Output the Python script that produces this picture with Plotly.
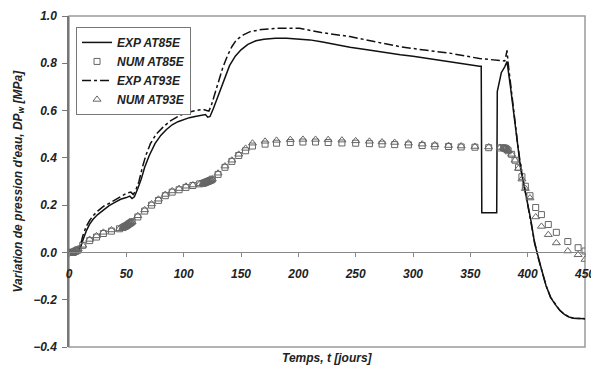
import plotly.graph_objects as go

# --- data ----------------------------------------------------------------
exp85_days = [0, 5, 8, 10, 12, 15, 18, 21, 25, 30, 35, 40, 45, 50, 53, 55, 57, 60, 63, 66,
              70, 75, 80, 85, 90, 95, 100, 105, 110, 115, 119, 121, 123, 126, 129, 132, 136,
              140, 145, 150, 156, 163, 170, 180, 190, 200, 210, 220, 233, 245, 260, 275, 289,
              300, 315, 332, 345, 358, 359.5, 360, 373, 373.5, 375, 377, 380, 382, 385, 388,
              391, 394, 397, 400, 403, 406, 409, 412, 416, 420, 424, 428, 432, 436, 440, 445, 450]
exp85_vals = [0, 0, 0.005, 0.02, 0.05, 0.09, 0.12, 0.14, 0.16, 0.18, 0.198, 0.212, 0.225, 0.232,
              0.238, 0.228, 0.235, 0.27, 0.31, 0.36, 0.41, 0.46, 0.495, 0.52, 0.54, 0.553, 0.563,
              0.57, 0.575, 0.58, 0.583, 0.572, 0.575, 0.61, 0.65, 0.69, 0.745, 0.79, 0.83, 0.857,
              0.88, 0.895, 0.902, 0.906, 0.906, 0.904, 0.899, 0.891, 0.878, 0.868, 0.857, 0.845,
              0.836, 0.83, 0.818, 0.807, 0.797, 0.787, 0.787, 0.168, 0.168, 0.68, 0.72, 0.76,
              0.785, 0.807, 0.70, 0.58, 0.46, 0.35, 0.28, 0.21, 0.13, 0.04, -0.02, -0.07, -0.14,
              -0.19, -0.22, -0.245, -0.262, -0.273, -0.278, -0.28, -0.28]

exp93_days = [0, 5, 8, 10, 12, 15, 18, 21, 25, 30, 36, 42, 50, 54, 56, 58, 61, 64, 67, 71, 76,
              82, 88, 95, 102, 110, 117, 120, 122, 124, 127, 130, 134, 138, 142, 146, 152, 158,
              168, 181, 201, 220, 245, 265, 289, 310, 332, 358, 375, 380, 381, 382, 383, 385,
              388, 391, 394, 397, 400, 403, 406, 409, 412, 416, 420, 424, 428, 432, 436, 440,
              445, 450]
exp93_vals = [0, 0, 0.01, 0.03, 0.07, 0.11, 0.135, 0.155, 0.175, 0.195, 0.21, 0.228, 0.25, 0.255,
              0.245, 0.26, 0.30, 0.36, 0.41, 0.46, 0.50, 0.53, 0.555, 0.575, 0.59, 0.60, 0.605,
              0.60, 0.598, 0.62, 0.67, 0.72, 0.78, 0.83, 0.87, 0.899, 0.92, 0.934, 0.943, 0.948,
              0.948, 0.93, 0.913, 0.893, 0.87, 0.856, 0.843, 0.82, 0.812, 0.81, 0.83, 0.855, 0.80,
              0.71, 0.59, 0.47, 0.36, 0.28, 0.21, 0.13, 0.045, -0.02, -0.07, -0.14, -0.19, -0.22,
              -0.245, -0.262, -0.273, -0.278, -0.28, -0.28]

num_days = [0, 1, 2, 3, 4, 5, 6, 7, 8, 12, 18, 24, 30, 37, 44,
            47, 48, 49, 50, 51, 52, 53, 54, 55,
            60, 66, 72, 78, 84, 90, 96, 102, 108, 114,
            117, 118, 119, 120, 121, 122, 123, 124, 125,
            130, 136, 142, 148, 154,
            160, 171, 181, 193, 204, 215, 226, 238, 250, 262, 273, 284, 296, 308, 319, 331,
            342, 354, 366, 376,
            379, 380, 381, 382, 383,
            386, 389, 392, 395, 398, 402, 407, 412, 418, 425, 435, 444, 450]
num85_vals = [0, 0, 0, 0, 0, 0.005, 0.005, 0.01, 0.01, 0.03, 0.05, 0.065, 0.08, 0.09, 0.10,
              0.105, 0.108, 0.11, 0.113, 0.116, 0.12, 0.123, 0.126, 0.13,
              0.15, 0.175, 0.20, 0.22, 0.24, 0.255, 0.265, 0.275, 0.283, 0.29,
              0.292, 0.294, 0.296, 0.298, 0.30, 0.302, 0.304, 0.306, 0.31,
              0.33, 0.36, 0.385, 0.41, 0.43,
              0.45, 0.458, 0.462, 0.465, 0.467, 0.467, 0.465, 0.463, 0.462, 0.46, 0.458, 0.456,
              0.455, 0.452, 0.45, 0.448, 0.446, 0.445, 0.443, 0.442,
              0.442, 0.441, 0.44, 0.435, 0.43,
              0.415, 0.39, 0.36, 0.32, 0.28, 0.24, 0.19, 0.16, 0.118, 0.085, 0.046, 0.02, 0.006]
num93_vals = [0, 0, 0, 0, 0.005, 0.005, 0.01, 0.01, 0.015, 0.03, 0.055, 0.07, 0.085, 0.095, 0.10,
              0.105, 0.108, 0.11, 0.113, 0.116, 0.12, 0.123, 0.126, 0.13,
              0.155, 0.18, 0.205, 0.225, 0.245, 0.26, 0.27, 0.28, 0.285, 0.29,
              0.292, 0.294, 0.296, 0.298, 0.30, 0.302, 0.304, 0.306, 0.31,
              0.335, 0.365, 0.39, 0.415, 0.44,
              0.462, 0.47, 0.474, 0.477, 0.478, 0.478, 0.477, 0.475, 0.472, 0.47, 0.467, 0.465,
              0.462, 0.458, 0.455, 0.452, 0.45, 0.448, 0.446, 0.444,
              0.443, 0.442, 0.44, 0.435, 0.43,
              0.415, 0.39, 0.355, 0.31, 0.27, 0.23, 0.15, 0.11, 0.075, 0.04, 0.006, -0.01, -0.03]

x_ticks = [0, 50, 100, 150, 200, 250, 300, 350, 400, 450]
y_ticks = [-0.4, -0.2, 0.0, 0.2, 0.4, 0.6, 0.8, 1.0]

FONT = "Liberation Sans"
TXT = "#222222"

fig = go.Figure()
fig.add_trace(go.Scatter(x=exp85_days, y=exp85_vals, mode="lines", name="EXP AT85E",
                         line=dict(color="#111111", width=1.5)))
fig.add_trace(go.Scatter(x=num_days, y=num85_vals, mode="markers", name="NUM AT85E",
                         marker=dict(symbol="square-open", size=6, color="#666666",
                                     line=dict(width=1))))
fig.add_trace(go.Scatter(x=exp93_days, y=exp93_vals, mode="lines", name="EXP AT93E",
                         line=dict(color="#111111", width=1.5, dash="dashdot")))
fig.add_trace(go.Scatter(x=num_days, y=num93_vals, mode="markers", name="NUM AT93E",
                         marker=dict(symbol="triangle-up-open", size=7, color="#666666",
                                     line=dict(width=1))))

# frame around the plot area
fig.add_shape(type="rect", xref="paper", yref="paper", x0=0, y0=0, x1=1, y1=1,
              line=dict(color="#9a9a9a", width=1.5), layer="below")

fig.add_annotation(text="Temps, t [jours]", xref="paper", yref="paper", x=0.5, y=0,
                   yshift=-11, showarrow=False, yanchor="middle",
                   font=dict(family=FONT, size=12, color=TXT, weight="bold", style="italic"))
fig.add_annotation(text="Variation de pression d'eau, DP<sub>w</sub> [MPa]", xref="paper",
                   yref="paper", x=0, xshift=-51, y=0.5, textangle=-90, showarrow=False,
                   xanchor="center", yanchor="middle",
                   font=dict(family=FONT, size=12, color=TXT, weight="bold", style="italic"))

# the page body adds an 8px offset, so the figure is 8px smaller on each axis
fig.update_layout(
    width=591, height=363,
    margin=dict(l=61, r=14, t=8, b=24, autoexpand=False),
    paper_bgcolor="white", plot_bgcolor="white",
    font=dict(family=FONT, size=12, color=TXT, weight="bold", style="italic"),
    showlegend=True,
    legend=dict(x=0.0136, y=0.967, xanchor="left", yanchor="top",
                bgcolor="white", bordercolor="#777777", borderwidth=1,
                font=dict(family=FONT, size=12, color=TXT, weight="bold", style="italic"),
                tracegroupgap=0, itemwidth=30),
    xaxis=dict(range=[0, 450], tickvals=x_ticks, showgrid=False, zeroline=False,
               anchor="free", position=0.4 / 1.4, showline=True, linecolor="#888888",
               linewidth=1, ticks="outside", ticklen=4, tickcolor="#888888",
               ticklabelstandoff=6),
    yaxis=dict(range=[-0.4, 1.0], tickvals=y_ticks, tickformat=".1f", showgrid=False,
               zeroline=False, showline=True, linecolor="#777777", linewidth=1.5,
               ticks="outside", ticklen=5, tickcolor="#777777", ticklabelstandoff=3),
)

fig.write_html("out.html")
